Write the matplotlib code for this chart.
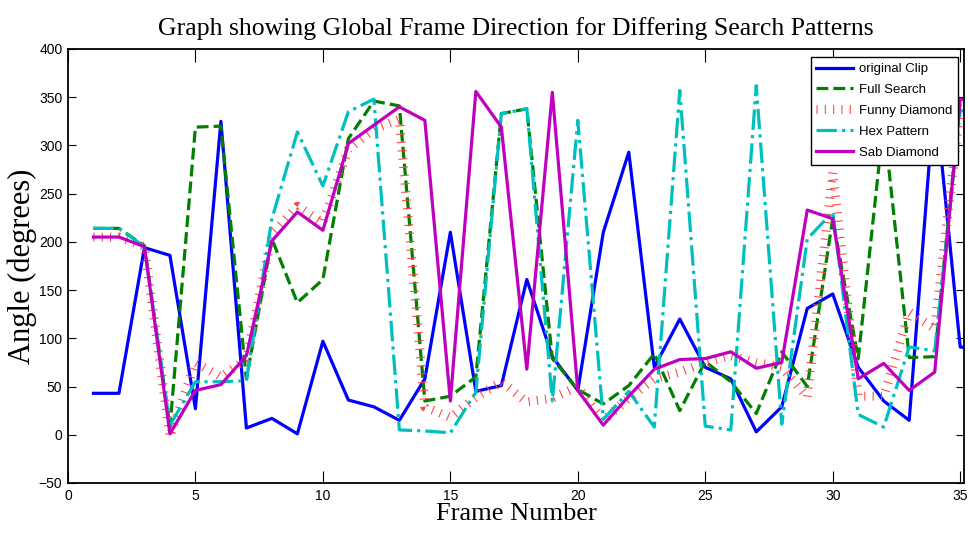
import numpy as np
import matplotlib
matplotlib.use('Agg')
import matplotlib.pyplot as plt

plt.rcParams['font.family'] = ['Liberation Sans', 'DejaVu Sans']
plt.rcParams['axes.unicode_minus'] = True

# frame-by-frame global direction (degrees) for each search pattern
frames = np.arange(1, 37)
original_clip = [43, 43, 194, 186, 27, 325, 7, 17, 1, 97, 36, 29, 15, 58, 210, 45, 51, 161,
                 81, 46, 210, 293, 70, 120, 70, 58, 3, 29, 131, 146, 70, 35, 15, 355, 91, 88]
full_search = [214, 214, 196, 8, 319, 320, 58, 203, 137, 161, 307, 346, 341, 35, 40, 60, 333, 338,
               79, 47, 32, 51, 84, 25, 76, 55, 22, 86, 50, 224, 79, 325, 80, 81, 346, 345]
funny_diamond = [205, 205, 195, -2, 75, 60, 78, 208, 237, 220, 296, 317, 327, 29, 18, 39, 55, 34,
                 38, 50, 15, 38, 58, 65, 75, 82, 75, 70, 39, 272, 40, 40, 127, 110, 340, 340]
hex_pattern = [214, 214, 195, 10, 55, 55, 56, 224, 314, 258, 335, 348, 5, 4, 2, 44, 333, 338,
               35, 326, 16, 45, 8, 357, 9, 5, 362, 11, 203, 231, 21, 8, 91, 87, 336, 335]
sab_diamond = [205, 205, 195, 1, 46, 52, 82, 201, 231, 212, 302, 321, 340, 326, 35, 356, 319, 68,
               355, 46, 10, 40, 68, 78, 79, 86, 69, 75, 233, 224, 58, 74, 46, 65, 348, 345]

fig = plt.figure(figsize=(9.68, 5.39), dpi=100)
ax = fig.add_axes([0.0702, 0.1039, 0.9257, 0.8052])

lw = 2.3
ax.plot(frames, original_clip, '-', color=(0, 0, 1), lw=lw, label='original Clip')
ax.plot(frames, full_search, '--', color=(0, 0.5, 0), lw=lw, label='Full Search')
# thick line with very short dashes -> row of thin ticks across the path
ax.plot(frames, funny_diamond, color='#ff4545', lw=6.5, dashes=(0.12, 0.8),
        dash_capstyle='butt', label='Funny Diamond')
ax.plot(frames, hex_pattern, '-.', color=(0, 0.75, 0.75), lw=lw, label='Hex Pattern')
ax.plot(frames, sab_diamond, '-', color=(0.75, 0, 0.75), lw=lw, label='Sab Diamond')

ax.set_xlim(0, 35.15)
ax.set_ylim(-50, 400)
ax.set_xticks(np.arange(0, 36, 5))
ax.set_yticks(np.arange(-50, 401, 50))

# boxed axes with inward ticks on every side
ax.tick_params(axis='both', direction='in', top=True, right=True,
               labelsize=10, width=0.8, colors='black', pad=4)
ax.tick_params(axis='x', length=9)
ax.tick_params(axis='y', length=6)
for spine in ax.spines.values():
    spine.set_linewidth(1.3)

ax.set_title('Graph showing Global Frame Direction for Differing Search Patterns',
             family='Liberation Serif', fontsize=18.5, pad=10)
ax.set_xlabel('Frame Number', family='Liberation Serif', fontsize=19, labelpad=0)
ax.set_ylabel('Angle (degrees)', family='Liberation Serif', fontsize=22, labelpad=1)

leg = ax.legend(loc='upper right', bbox_to_anchor=(0.9933, 0.9816), fontsize=9.5,
                frameon=True, fancybox=False, framealpha=1, edgecolor='black',
                handlelength=2.8, handletextpad=0.4, labelspacing=0.66,
                borderpad=0.45, borderaxespad=0)
leg.get_frame().set_linewidth(1.0)

fig.savefig('out.png', dpi=100)
